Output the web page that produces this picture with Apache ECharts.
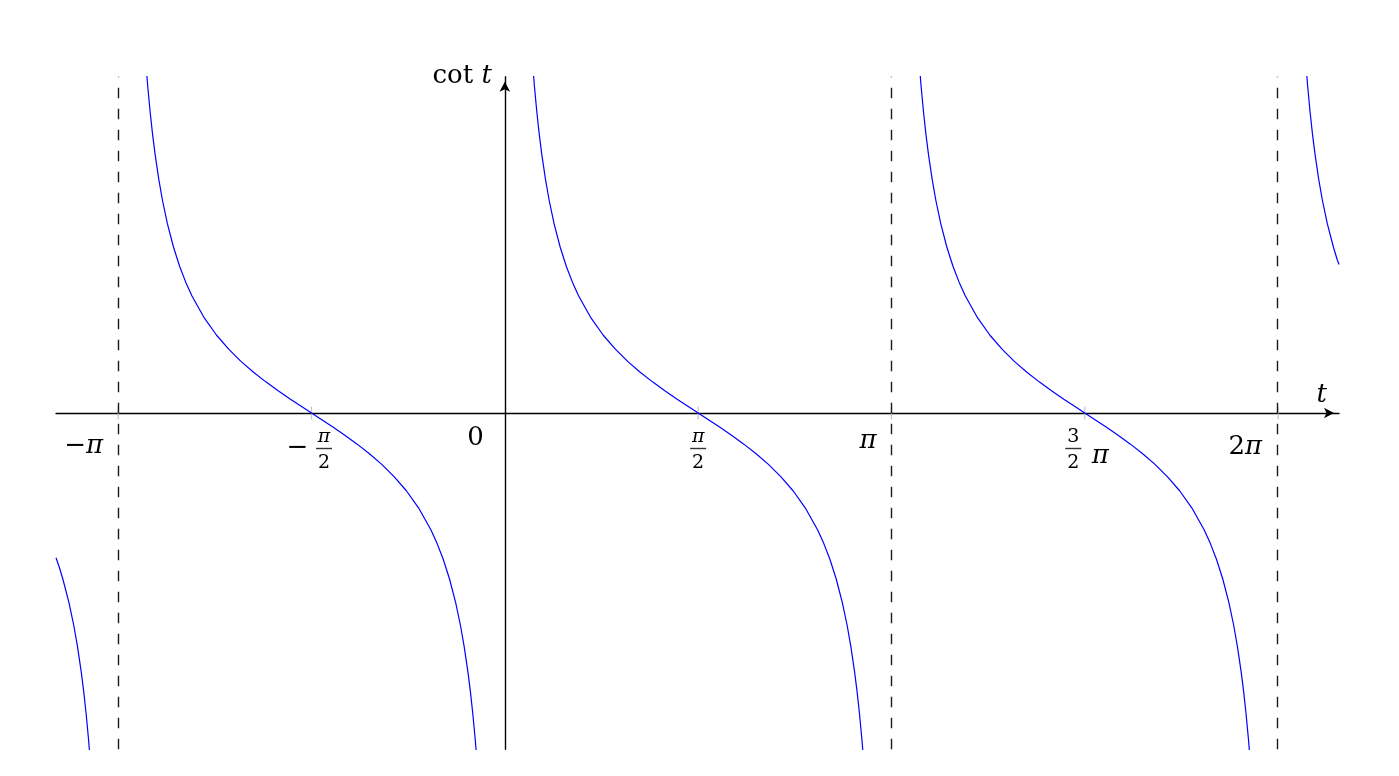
<!DOCTYPE html>
<html>
<head>
<meta charset="utf-8">
<script src="https://cdn.jsdelivr.net/npm/echarts@6/dist/echarts.min.js"></script>
<style>
html,body{margin:0;padding:0;background:#fff;}
#chart{width:1399px;height:776px;}
</style>
</head>
<body>
<div id="chart"></div>
<script>
// ---- data (cot t) ----
const xMin = -3.647, xMax = 6.778;
const yMin = -4.2, yMax = 4.2;

// one full branch of cot between two asymptotes (same values for every full branch)
const yFull = [4.472, 4.087, 3.759, 3.477, 3.233, 2.920, 2.657, 2.365, 2.070, 1.830, 1.631, 1.462, 1.187, 0.971, 0.794, 0.642, 0.509, 0.389, 0.278, 0.172, 0.071, 0,
  -0.071, -0.172, -0.278, -0.389, -0.509, -0.642, -0.794, -0.971, -1.187, -1.462, -1.631, -1.830, -2.070, -2.365, -2.657, -2.920, -3.233, -3.477, -3.759, -4.087, -4.472];

const tB = [-2.922, -2.902, -2.882, -2.862, -2.842, -2.812, -2.782, -2.742, -2.692, -2.642, -2.592, -2.542, -2.442, -2.342, -2.242, -2.142, -2.042, -1.942, -1.842, -1.742, -1.642, -1.571,
  -1.5, -1.4, -1.3, -1.2, -1.1, -1.0, -0.9, -0.8, -0.7, -0.6, -0.55, -0.5, -0.45, -0.4, -0.36, -0.33, -0.3, -0.28, -0.26, -0.24, -0.22];
const tC = [0.22, 0.24, 0.26, 0.28, 0.30, 0.33, 0.36, 0.40, 0.45, 0.50, 0.55, 0.60, 0.70, 0.80, 0.90, 1.00, 1.10, 1.20, 1.30, 1.40, 1.50, 1.571,
  1.642, 1.742, 1.842, 1.942, 2.042, 2.142, 2.242, 2.342, 2.442, 2.542, 2.592, 2.642, 2.692, 2.742, 2.782, 2.812, 2.842, 2.862, 2.882, 2.902, 2.922];
const tD = [3.362, 3.382, 3.402, 3.422, 3.442, 3.472, 3.502, 3.542, 3.592, 3.642, 3.692, 3.742, 3.842, 3.942, 4.042, 4.142, 4.242, 4.342, 4.442, 4.542, 4.642, 4.712,
  4.783, 4.883, 4.983, 5.083, 5.183, 5.283, 5.383, 5.483, 5.583, 5.683, 5.733, 5.783, 5.833, 5.883, 5.923, 5.953, 5.983, 6.003, 6.023, 6.043, 6.063];

// partial branches at the left and right edges
const tA = [-3.647, -3.622, -3.592, -3.542, -3.502, -3.472, -3.442, -3.422, -3.402, -3.382, -3.362];
const yA = [-1.807, -1.917, -2.070, -2.365, -2.657, -2.920, -3.233, -3.477, -3.759, -4.087, -4.472];
const tE = [6.503, 6.523, 6.543, 6.563, 6.583, 6.613, 6.643, 6.683, 6.733, 6.763, 6.778];
const yE = [4.472, 4.087, 3.759, 3.477, 3.233, 2.920, 2.657, 2.365, 2.070, 1.917, 1.854];

const asymptotes = [-Math.PI, Math.PI, 2 * Math.PI];
const tickMarks = [-Math.PI, -Math.PI / 2, Math.PI / 2, Math.PI, 1.5 * Math.PI, 2 * Math.PI];
const tickValues = [-Math.PI, -Math.PI / 2, 0, Math.PI / 2, Math.PI, 1.5 * Math.PI, 2 * Math.PI];
const tickLabels = ['−π', '−π/2', '0', 'π/2', 'π', '3/2π', '2π'];
const fractionTicks = [-Math.PI / 2, Math.PI / 2, 1.5 * Math.PI];
const xName = 't';
const yName = 'cot t';

// ---- layout / style ----
const FONT = 'DejaVu Serif';
const FS = 26;
const labelLayout = {
  '−π':   { align: 'right',  offset: [-15, 33] },
  '−π/2': { align: 'center', offset: [-2, 39.3] },
  '0':    { align: 'right',  offset: [-21, 25.5] },
  'π/2':  { align: 'center', offset: [0, 39.3] },
  'π':    { align: 'right',  offset: [-15, 28] },
  '3/2π': { align: 'center', offset: [2, 39.3] },
  '2π':   { align: 'right',  offset: [-16, 34] }
};
const barOffsets = [[12.5, 35.5], [0, 35.5], [-11.5, 35.5]];

function richFor(label) {
  if (label === 'π/2') return '{fpi|π}\n{fb|}\n{fd|2}';
  if (label === '−π/2') return '{sp|}{fpi|π}\n{mi|−}{fb|}\n{sp|}{fd|2}';
  if (label === '3/2π') return '{fn|3}{sp2|}\n{fb|}{pi|π}\n{fd|2}{sp2|}';
  if (label === '−π') return '{t|−}{ti|π}';
  if (label === '2π') return '{t|2}{ti|π}';
  if (label === 'π') return '{ti|π}';
  return '{t|' + label + '}';
}

const noBorder = { textBorderWidth: 0, textBorderColor: 'transparent', textShadowBlur: 0 };
const rich = {
  t:  Object.assign({ fontFamily: FONT, fontSize: FS, color: '#000', lineHeight: 30 }, noBorder),
  ti: Object.assign({ fontFamily: FONT, fontSize: FS, color: '#000', lineHeight: 30, fontStyle: 'italic' }, noBorder),
  fn: Object.assign({ fontFamily: FONT, fontSize: 19, color: '#000', width: 17, align: 'center', lineHeight: 18 }, noBorder),
  fpi: Object.assign({ fontFamily: FONT, fontSize: 19, color: '#000', width: 17, align: 'center', lineHeight: 18, fontStyle: 'italic' }, noBorder),
  fd: Object.assign({ fontFamily: FONT, fontSize: 19, color: '#000', width: 17, align: 'center', lineHeight: 26 }, noBorder),
  fb: { width: 17, fontSize: 10, lineHeight: 4 },
  mi: Object.assign({ fontFamily: FONT, fontSize: FS, color: '#000', width: 29, align: 'left', lineHeight: 4 }, noBorder),
  sp: { width: 29, fontSize: 10, lineHeight: 4 },
  sp2: { width: 27, fontSize: 10, lineHeight: 4 },
  pi: Object.assign({ fontFamily: FONT, fontSize: FS, color: '#000', width: 27, align: 'right', lineHeight: 4, fontStyle: 'italic', padding: [16, 0, 0, 0] }, noBorder)
};

function zip(ts, ys) { return ts.map((t, i) => [t, ys[i]]); }

const curveStyle = { color: '#0000ff', width: 1.2 };
function branch(data, extra) {
  return Object.assign({
    type: 'line', data: data, showSymbol: false, symbol: 'none', clip: true,
    lineStyle: curveStyle, itemStyle: { color: '#0000ff' }, silent: true, animation: false, z: 4
  }, extra || {});
}

const chart = echarts.init(document.getElementById('chart'), null, { renderer: 'canvas' });
chart.setOption({
  backgroundColor: '#ffffff',
  animation: false,
  grid: { left: 56, right: 60, top: 76.7, bottom: 26.7, containLabel: false, outerBoundsMode: 'none' },
  xAxis: {
    type: 'value', min: xMin, max: xMax,
    axisLine: { onZero: true, lineStyle: { color: '#000', width: 1.4 }, symbol: ['none', 'arrow'], symbolSize: [8, 10], symbolOffset: [0, -5] },
    axisTick: { show: false }, axisLabel: { show: false }, splitLine: { show: false },
    name: xName, nameLocation: 'end', nameGap: -12, nameMoveOverlap: false,
    nameTextStyle: { fontFamily: FONT, fontSize: FS, fontStyle: 'italic', color: '#000', align: 'right', verticalAlign: 'bottom', padding: [0, 0, 5, 0] }
  },
  yAxis: {
    type: 'value', min: yMin, max: yMax,
    axisLine: { onZero: true, lineStyle: { color: '#000', width: 1.4 }, symbol: ['none', 'arrow'], symbolSize: [8, 10], symbolOffset: [0, -5] },
    axisTick: { show: false }, axisLabel: { show: false }, splitLine: { show: false },
    name: yName, nameLocation: 'end', nameGap: 0, nameMoveOverlap: false,
    nameTextStyle: {
      align: 'right', verticalAlign: 'middle', padding: [0, 13, 0, 0],
      rich: {
        rm: { fontFamily: FONT, fontSize: FS, color: '#000' },
        it: { fontFamily: FONT, fontSize: FS, color: '#000', fontStyle: 'italic' }
      }
    },
    nameRotate: 0
  },
  series: [
    branch(zip(tA, yA)),
    branch(zip(tB, yFull)),
    branch(zip(tC, yFull), {
      markLine: {
        silent: true, symbol: ['none', 'none'], animation: false,
        label: { show: false },
        lineStyle: { color: '#1a1a1a', width: 1.4, type: [10.5, 10.5], opacity: 1 },
        emphasis: { disabled: true },
        data: asymptotes.map(v => ({ xAxis: v }))
      }
    }),
    branch(zip(tD, yFull)),
    branch(zip(tE, yE)),
    {
      type: 'scatter', silent: true, animation: false, z: 3,
      symbol: 'rect', symbolSize: [1.2, 13],
      itemStyle: { color: '#b5b5b5' },
      data: tickMarks.map(v => [v, 0])
    },
    {
      // fraction bars of the π/2-type tick labels
      type: 'scatter', silent: true, animation: false, z: 5,
      symbol: 'rect', symbolSize: [16, 1.4],
      itemStyle: { color: '#000' },
      data: fractionTicks.map((v, i) => ({ value: [v, 0], symbolOffset: barOffsets[i] }))
    },
    {
      type: 'scatter', silent: true, animation: false, z: 5,
      symbol: 'circle', symbolSize: 0.01, itemStyle: { color: '#000', opacity: 1 },
      emphasis: { disabled: true },
      data: tickValues.map((v, i) => {
        const lab = tickLabels[i];
        const lay = labelLayout[lab];
        return {
          value: [v, 0],
          label: Object.assign({
            show: true, position: 'inside', align: lay.align, verticalAlign: 'middle', color: '#000', opacity: 1,
            offset: lay.offset, formatter: richFor(lab), rich: rich
          }, noBorder)
        };
      })
    }
  ]
});
chart.setOption({ yAxis: { name: '{rm|cot }{it|t}' } });
</script>
</body>
</html>
